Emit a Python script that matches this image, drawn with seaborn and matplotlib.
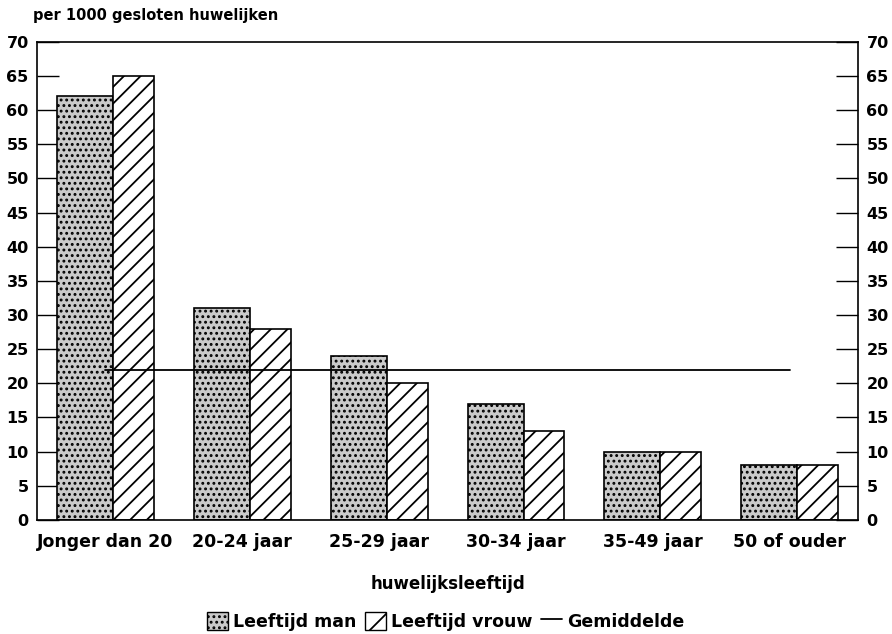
import pandas as pd
import seaborn as sns
import numpy as np
import matplotlib.pyplot as plt
from matplotlib.patches import Patch
from matplotlib.lines import Line2D

categories = ['Jonger dan 20', '20-24 jaar', '25-29 jaar', '30-34 jaar', '35-49 jaar', '50 of ouder']
man = [62, 31, 24, 17, 10, 8]
vrouw = [65, 28, 20, 13, 10, 8]
gemiddelde = [22, 22, 22, 22, 22, 22]
yticks = list(range(0, 71, 5))

df = pd.DataFrame({
    'leeftijd': categories * 2,
    'waarde': man + vrouw,
    'groep': ['Leeftijd man'] * len(man) + ['Leeftijd vrouw'] * len(vrouw),
})

sns.set_style('white')
plt.rcParams['font.family'] = ['DejaVu Sans']
plt.rcParams['font.weight'] = 'bold'
plt.rcParams['text.color'] = 'black'
plt.rcParams['axes.labelcolor'] = 'black'
plt.rcParams['xtick.color'] = 'black'
plt.rcParams['ytick.color'] = 'black'
plt.rcParams['hatch.linewidth'] = 1.3

fig = plt.figure(figsize=(8.92, 6.34), dpi=100)
ax = fig.add_axes([0.0415, 0.18, 0.9205, 0.754])

sns.barplot(data=df, x='leeftijd', y='waarde', hue='groep', order=categories,
            palette=['#cacaca', 'white'], width=0.71, legend=False, ax=ax,
            edgecolor='black', linewidth=1.2)

# man bar wider than vrouw bar, as in the original
n = len(categories)
for i, p in enumerate(ax.patches[:2 * n]):
    c = i % n
    if i < n:
        p.set_x(c - 0.354)
        p.set_width(0.409)
        p.set_hatch('...')
    else:
        p.set_x(c + 0.055)
        p.set_width(0.299)
        p.set_hatch('//')

sns.lineplot(x=np.arange(n), y=gemiddelde, color='black', linewidth=1.3, ax=ax, zorder=5)

ax.set_xlim(-0.5, n - 0.5)
ax.set_ylim(0, 70)
ax.set_yticks(yticks)
ax.set_xticks(range(n))
ax.set_xticklabels(categories)
ax.tick_params(axis='y', direction='in', length=16, width=1, left=True, right=True,
               labelleft=True, labelright=True, labelsize=11.5, pad=6)
ax.tick_params(axis='x', bottom=False, labelsize=12.5, pad=6)
for s in ax.spines.values():
    s.set_visible(True)
    s.set_color('black')
    s.set_linewidth(1.2)

ax.set_xlabel('huwelijksleeftijd', fontsize=12, fontweight='bold', labelpad=17)
ax.set_ylabel('')
fig.text(0.037, 0.975, 'per 1000 gesloten huwelijken', fontsize=10.5, fontweight='bold',
         ha='left', va='center')

handles = [
    Patch(facecolor='#cacaca', edgecolor='black', hatch='...', label='Leeftijd man'),
    Patch(facecolor='white', edgecolor='black', hatch='/', label='Leeftijd vrouw'),
    Line2D([0], [0], color='black', linewidth=1.3, label='Gemiddelde'),
]
fig.legend(handles=handles, loc='center', bbox_to_anchor=(0.5, 0.02), ncol=3, frameon=False,
           fontsize=12.5, handlelength=1.2, handleheight=1.2, handletextpad=0.3,
           columnspacing=0.5)

plt.savefig('out.png', dpi=100)
